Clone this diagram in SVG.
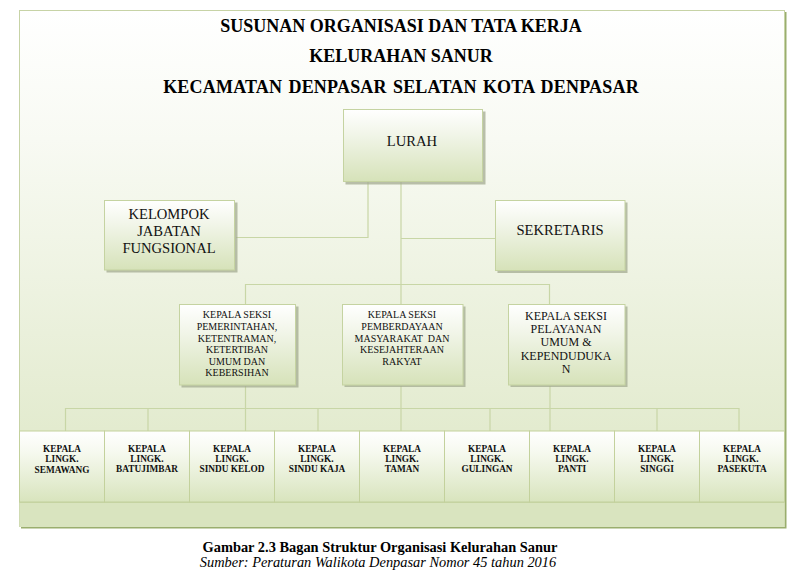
<svg xmlns="http://www.w3.org/2000/svg" width="807" height="587" viewBox="0 0 807 587">
<defs>
<linearGradient id="bg" x1="0" y1="0" x2="0" y2="1">
<stop offset="0" stop-color="#ffffff"/>
<stop offset="0.25" stop-color="#f8faf3"/>
<stop offset="1" stop-color="#dce6c3"/>
</linearGradient>
<linearGradient id="node" x1="0" y1="0" x2="0" y2="1">
<stop offset="0" stop-color="#ffffff"/>
<stop offset="0.35" stop-color="#f1f5e8"/>
<stop offset="1" stop-color="#d6e2b9"/>
</linearGradient>
<linearGradient id="cell" x1="0" y1="0" x2="0" y2="1">
<stop offset="0" stop-color="#ffffff"/>
<stop offset="0.3" stop-color="#f6f9ef"/>
<stop offset="1" stop-color="#d8e4bd"/>
</linearGradient>
<style>
.box{fill:url(#node);stroke:#c5d3a1;stroke-width:1}
.shadow{fill:#a3ab90;opacity:0.75}
.cellbox{fill:url(#cell);stroke:#c3d19c;stroke-width:1}
.ln{fill:none;stroke:#c8d6a6;stroke-width:1.2}
.title{font-family:"Liberation Serif","Times New Roman",serif;font-weight:bold;font-size:18px;fill:#000;text-anchor:middle}
.big{font-family:"Liberation Serif","Times New Roman",serif;font-size:14.6px;fill:#111;text-anchor:middle}
.mid{font-family:"Liberation Serif","Times New Roman",serif;font-size:12px;fill:#111;text-anchor:middle}
.sm{font-family:"Liberation Serif","Times New Roman",serif;font-size:10px;fill:#111;text-anchor:middle}
.cl{font-family:"Liberation Serif","Times New Roman",serif;font-size:9.3px;font-weight:bold;fill:#111;text-anchor:middle}
.cap{font-family:"Liberation Serif","Times New Roman",serif;font-size:14.4px;fill:#000;text-anchor:middle}
</style>
</defs>
<rect width="807" height="587" fill="#ffffff"/>

<!-- outer frame -->
<g id="frame">
<rect x="21" y="12" width="765.5" height="516.5" fill="#9aae6e"/>
<rect x="19.5" y="10.5" width="765" height="516" fill="url(#bg)" stroke="#c7d3a6" stroke-width="1"/>
<rect x="19.5" y="502" width="765" height="25" fill="#d9e4bf"/>
<line x1="19.5" y1="502" x2="784.5" y2="502" stroke="#b6c68e" stroke-width="1"/>
</g>

<g id="titles">
<text class="title" x="401" y="32">SUSUNAN ORGANISASI DAN TATA KERJA</text>
<text class="title" x="401" y="62">KELURAHAN SANUR</text>
<text class="title" x="401" y="93" word-spacing="1.5" letter-spacing="0.2">KECAMATAN DENPASAR SELATAN KOTA DENPASAR</text>
</g>

<g id="connectors">
<polyline class="ln" points="368,182 368,237.5 236,237.5"/>
<line class="ln" x1="401" y1="182" x2="401" y2="305"/>
<line class="ln" x1="401" y1="238.5" x2="496" y2="238.5"/>
<polyline class="ln" points="245.5,304 245.5,284.5 549.5,284.5 549.5,304"/>
<line class="ln" x1="245.5" y1="386" x2="245.5" y2="431"/>
<line class="ln" x1="401" y1="386" x2="401" y2="431"/>
<line class="ln" x1="550" y1="386" x2="550" y2="431"/>
<polyline class="ln" points="65.5,431 65.5,408.5 739,408.5 739,431"/>
<line class="ln" x1="148" y1="408.5" x2="148" y2="431"/>
<line class="ln" x1="318" y1="408.5" x2="318" y2="431"/>
<line class="ln" x1="490" y1="408.5" x2="490" y2="431"/>
<line class="ln" x1="657" y1="408.5" x2="657" y2="431"/>
</g>

<g id="lurah">
<rect class="shadow" x="345.5" y="111.5" width="140" height="73"/>
<rect class="box" x="343.5" y="109.5" width="139" height="72"/>
<text class="big" x="412" y="146" font-size="15">LURAH</text>
</g>

<g id="kelompok">
<rect class="shadow" x="106.5" y="202.5" width="131" height="70"/>
<rect class="box" x="104.5" y="200.5" width="130" height="69.5"/>
<text class="big" x="169" y="219">KELOMPOK</text>
<text class="big" x="169" y="236">JABATAN</text>
<text class="big" x="169" y="252.5">FUNGSIONAL</text>
</g>

<g id="sekretaris">
<rect class="shadow" x="497.5" y="202.5" width="130" height="70.5"/>
<rect class="box" x="495.5" y="200.5" width="129.5" height="70"/>
<text class="big" x="560" y="234.5">SEKRETARIS</text>
</g>

<g id="seksi-pemerintahan">
<rect class="shadow" x="181.5" y="306.5" width="117" height="81"/>
<rect class="box" x="179.5" y="304.5" width="116" height="80.5"/>
<text class="sm" x="237" y="318">KEPALA SEKSI</text>
<text class="sm" x="237" y="329.5">PEMERINTAHAN,</text>
<text class="sm" x="237" y="341.5">KETENTRAMAN,</text>
<text class="sm" x="237" y="353">KETERTIBAN</text>
<text class="sm" x="237" y="364.5">UMUM DAN</text>
<text class="sm" x="237" y="376">KEBERSIHAN</text>
</g>

<g id="seksi-pemberdayaan">
<rect class="shadow" x="344.5" y="306.5" width="121" height="80.5"/>
<rect class="box" x="342.5" y="304.5" width="120.5" height="80.5"/>
<text class="sm" x="402" y="318">KEPALA SEKSI</text>
<text class="sm" x="402" y="330">PEMBERDAYAAN</text>
<text class="sm" x="402" y="341.5" xml:space="preserve">MASYARAKAT  DAN</text>
<text class="sm" x="402" y="353">KESEJAHTERAAN</text>
<text class="sm" x="402" y="364.5">RAKYAT</text>
</g>

<g id="seksi-pelayanan">
<rect class="shadow" x="510.5" y="306.5" width="117" height="80.5"/>
<rect class="box" x="508.5" y="304.5" width="116.5" height="80.5"/>
<text class="mid" x="566" y="319.5">KEPALA SEKSI</text>
<text class="mid" x="566" y="332.5">PELAYANAN</text>
<text class="mid" x="566" y="346">UMUM &amp;</text>
<text class="mid" x="566" y="359.5">KEPENDUDUKA</text>
<text class="mid" x="566" y="372.5">N</text>
</g>

<g id="lingk-semawang">
<rect class="cellbox" x="19.5" y="431" width="85" height="71"/>
<text class="cl" x="62" y="452">KEPALA</text>
<text class="cl" x="62" y="461.5">LINGK.</text>
<text class="cl" x="62" y="473">SEMAWANG</text>
</g>
<g id="lingk-batujimbar">
<rect class="cellbox" x="104.5" y="431" width="85" height="71"/>
<text class="cl" x="147" y="452">KEPALA</text>
<text class="cl" x="147" y="461.5">LINGK.</text>
<text class="cl" x="147" y="471.5">BATUJIMBAR</text>
</g>
<g id="lingk-sindu-kelod">
<rect class="cellbox" x="189.5" y="431" width="85" height="71"/>
<text class="cl" x="232" y="452">KEPALA</text>
<text class="cl" x="232" y="461.5">LINGK.</text>
<text class="cl" x="232" y="471.5">SINDU KELOD</text>
</g>
<g id="lingk-sindu-kaja">
<rect class="cellbox" x="274.5" y="431" width="85" height="71"/>
<text class="cl" x="317" y="452">KEPALA</text>
<text class="cl" x="317" y="461.5">LINGK.</text>
<text class="cl" x="317" y="471.5">SINDU KAJA</text>
</g>
<g id="lingk-taman">
<rect class="cellbox" x="359.5" y="431" width="85" height="71"/>
<text class="cl" x="402" y="452">KEPALA</text>
<text class="cl" x="402" y="461.5">LINGK.</text>
<text class="cl" x="402" y="471.5">TAMAN</text>
</g>
<g id="lingk-gulingan">
<rect class="cellbox" x="444.5" y="431" width="85" height="71"/>
<text class="cl" x="487" y="452">KEPALA</text>
<text class="cl" x="487" y="461.5">LINGK.</text>
<text class="cl" x="487" y="471.5">GULINGAN</text>
</g>
<g id="lingk-panti">
<rect class="cellbox" x="529.5" y="431" width="85" height="71"/>
<text class="cl" x="572" y="452">KEPALA</text>
<text class="cl" x="572" y="461.5">LINGK.</text>
<text class="cl" x="572" y="471.5">PANTI</text>
</g>
<g id="lingk-singgi">
<rect class="cellbox" x="614.5" y="431" width="85" height="71"/>
<text class="cl" x="657" y="452">KEPALA</text>
<text class="cl" x="657" y="461.5">LINGK.</text>
<text class="cl" x="657" y="471.5">SINGGI</text>
</g>
<g id="lingk-pasekuta">
<rect class="cellbox" x="699.5" y="431" width="85" height="71"/>
<text class="cl" x="742" y="452">KEPALA</text>
<text class="cl" x="742" y="461.5">LINGK.</text>
<text class="cl" x="742" y="471.5">PASEKUTA</text>
</g>

<g id="caption">
<text class="cap" x="380" y="551.5" font-weight="bold">Gambar 2.3 Bagan Struktur Organisasi Kelurahan Sanur</text>
<text class="cap" x="378" y="566.5" font-style="italic">Sumber: Peraturan Walikota Denpasar Nomor 45 tahun 2016</text>
</g>
</svg>
